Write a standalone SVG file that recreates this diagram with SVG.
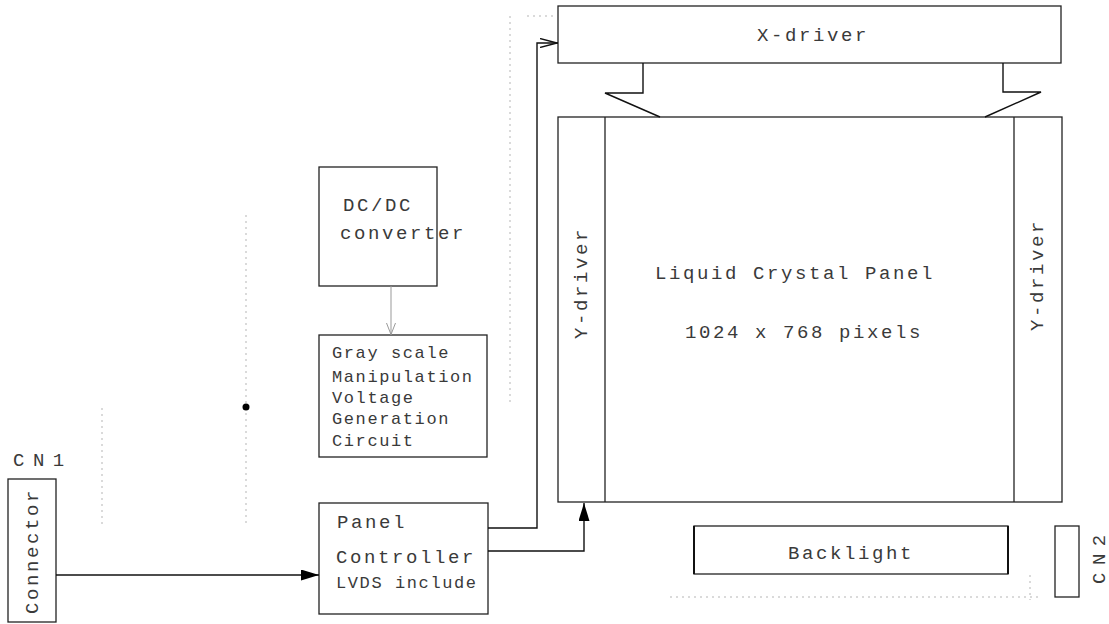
<svg xmlns="http://www.w3.org/2000/svg" width="1109" height="624" viewBox="0 0 1109 624">
<defs>
<style>
.box{fill:none;stroke:#222;stroke-width:1.3}
.ln{fill:none;stroke:#111;stroke-width:1.4}
.faint{fill:none;stroke:#b5b5b5;stroke-width:1;stroke-dasharray:2 4}
.t{font-family:"Liberation Mono","Courier New",monospace;font-size:19px;fill:#3a3a3a;letter-spacing:2.6px}
.s{font-family:"Liberation Mono","Courier New",monospace;font-size:17px;fill:#3a3a3a;letter-spacing:1.6px}
</style>
<marker id="fill" viewBox="0 0 18 11" refX="18" refY="5.5" markerWidth="18" markerHeight="11" markerUnits="userSpaceOnUse" orient="auto"><path d="M0,0 L18,5.5 L0,11 Z" fill="#000"/></marker>
<marker id="open" viewBox="0 0 18 10" refX="18" refY="5" markerWidth="18" markerHeight="10" markerUnits="userSpaceOnUse" orient="auto"><path d="M0,0.5 L17,5 L0,9.5" fill="none" stroke="#111" stroke-width="1.4"/></marker>
<marker id="opengray" viewBox="0 0 12 10" refX="12" refY="5" markerWidth="12" markerHeight="10" markerUnits="userSpaceOnUse" orient="auto"><path d="M0,0.5 L11.5,5 L0,9.5" fill="none" stroke="#999" stroke-width="1"/></marker>
</defs>
<rect width="1109" height="624" fill="#fff"/>

<g id="faint-lines">
<line class="faint" x1="102" y1="408" x2="102" y2="526"/>
<line class="faint" x1="246" y1="215" x2="246" y2="525"/>
<line class="faint" x1="510" y1="16" x2="510" y2="406"/>
<line class="faint" x1="527" y1="16" x2="556" y2="16"/>
<line class="faint" x1="670" y1="597" x2="1040" y2="597"/>
<line class="faint" x1="1030" y1="575" x2="1030" y2="600"/>
</g>

<g id="xdriver">
<rect class="box" x="558" y="6" width="503" height="57"/>
<text class="t" x="757" y="41">X-driver</text>
</g>

<g id="lcd">
<rect class="box" x="558" y="117" width="504" height="385"/>
<line class="box" x1="605" y1="117" x2="605" y2="502"/>
<line class="box" x1="1014" y1="117" x2="1014" y2="502"/>
<text class="t" x="655" y="279">Liquid Crystal Panel</text>
<text class="t" x="685" y="338">1024 x 768 pixels</text>
</g>

<g id="ydriver-left">
<text class="t" transform="translate(587,339) rotate(-90)">Y-driver</text>
</g>
<g id="ydriver-right">
<text class="t" transform="translate(1043,331) rotate(-90)">Y-driver</text>
</g>

<g id="dcdc">
<rect class="box" x="319" y="167" width="118" height="119"/>
<text class="t" x="343" y="211">DC/DC</text>
<text class="t" x="340" y="239">converter</text>
</g>

<g id="grayscale">
<rect class="box" x="319" y="335" width="168" height="122"/>
<text class="s" x="332" y="358">Gray scale</text>
<text class="s" x="332" y="382">Manipulation</text>
<text class="s" x="332" y="403">Voltage</text>
<text class="s" x="332" y="424">Generation</text>
<text class="s" x="332" y="446">Circuit</text>
</g>

<g id="cn1">
<text class="t" x="13" y="466" style="letter-spacing:8.5px">CN1</text>
<rect class="box" x="8" y="479" width="48" height="143"/>
<text class="t" transform="translate(38,614) rotate(-90)">Connector</text>
</g>

<g id="panel-controller">
<rect class="box" x="319" y="503" width="169" height="111"/>
<text class="t" x="337" y="528">Panel</text>
<text class="t" x="336" y="563">Controller</text>
<text class="s" x="336" y="588">LVDS include</text>
</g>

<g id="backlight">
<rect class="box" x="694" y="526" width="314" height="48"/>
<line x1="694" y1="526" x2="694" y2="574" stroke="#111" stroke-width="2"/>
<line x1="1008" y1="526" x2="1008" y2="574" stroke="#111" stroke-width="2"/>
<text class="t" x="788" y="559">Backlight</text>
</g>

<g id="cn2">
<rect class="box" x="1055" y="526" width="24" height="71"/>
<text class="t" transform="translate(1105,584) rotate(-90)" style="letter-spacing:7.5px">CN2</text>
</g>

<g id="connectors">
<polyline class="ln" points="643,63 643,93 605,93 660,117"/>
<polyline class="ln" points="1003,63 1003,92 1041,92 985,117"/>
<line x1="391" y1="286" x2="391" y2="335" stroke="#999" stroke-width="1" marker-end="url(#opengray)"/>
<line class="ln" x1="56" y1="575" x2="319" y2="575" marker-end="url(#fill)"/>
<polyline class="ln" points="488,528 537,528 537,43 558,43" marker-end="url(#open)"/>
<polyline class="ln" points="488,551 584,551 584,503" marker-end="url(#fill)"/>
<circle cx="246" cy="407" r="3.5" fill="#000"/>
</g>
</svg>
